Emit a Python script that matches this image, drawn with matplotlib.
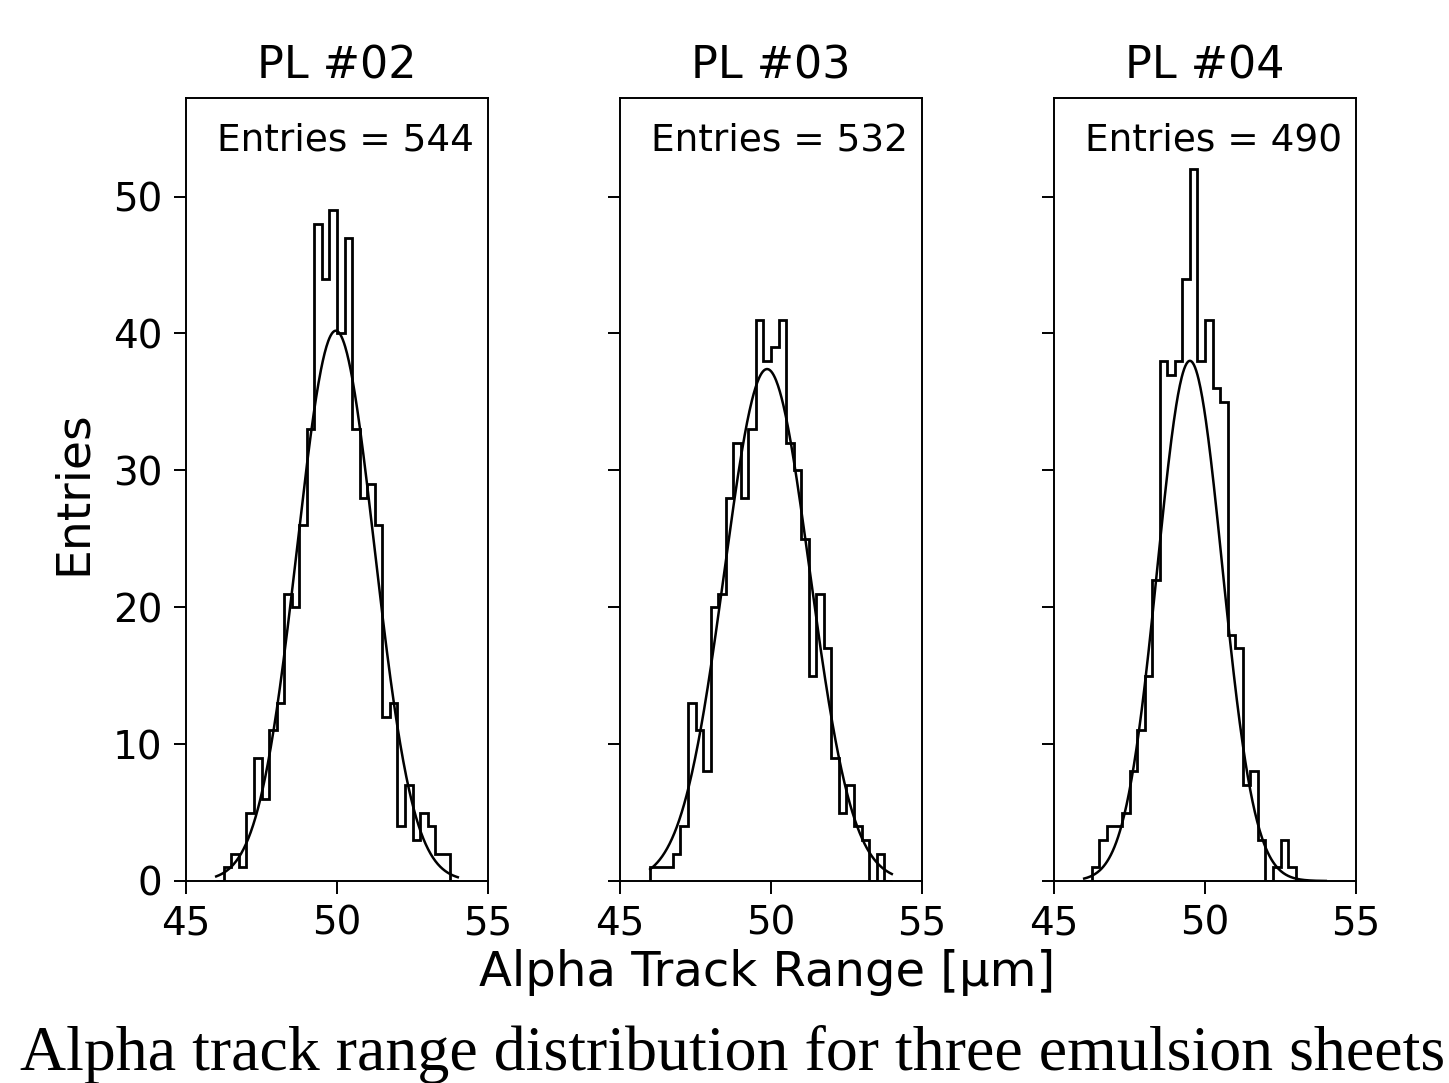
import numpy as np
import matplotlib
matplotlib.use("Agg")
import matplotlib.pyplot as plt

# bin edges: 0.25 um bins from 46 to 54
bin_lo, bin_hi, n_bins = 46.0, 54.0, 32

counts_pl02 = [0, 1, 2, 1, 5, 9, 6, 11, 13, 21, 20, 26, 33, 48, 44, 49,
               40, 47, 33, 28, 29, 26, 12, 13, 4, 7, 3, 5, 4, 2, 2, 0]
counts_pl03 = [1, 1, 1, 2, 4, 13, 11, 8, 20, 21, 28, 32, 28, 33, 41, 38,
               39, 41, 32, 30, 25, 15, 21, 17, 9, 5, 7, 4, 3, 0, 2, 0]
counts_pl04 = [0, 1, 3, 4, 4, 5, 8, 11, 15, 22, 38, 37, 38, 44, 52, 38,
               41, 36, 35, 18, 17, 7, 8, 3, 0, 1, 3, 1, 0, 0, 0, 0]

titles  = ["PL #02", "PL #03", "PL #04"]
entries = [544, 532, 490]

# gaussian fit parameters (amplitude, mean, sigma)
fit_amp   = [40.2, 37.4, 38.0]
fit_mean  = [49.96, 49.87, 49.50]
fit_sigma = [1.28, 1.41, 1.07]

all_counts = [counts_pl02, counts_pl03, counts_pl04]

edges   = np.linspace(bin_lo, bin_hi, n_bins + 1)
centers = 0.5 * (edges[:-1] + edges[1:])
xfit    = np.linspace(bin_lo, bin_hi, 400)

plt.rcParams["font.family"] = "DejaVu Sans"
fig = plt.figure(figsize=(14.49, 10.83), dpi=100, facecolor="white")

W, H = 1449, 1083
lefts = [186, 620, 1054]
ax_w, ax_top, ax_bot = 302, 98, 881

axes = []
for i, cnt in enumerate(all_counts):
    ax = fig.add_axes([lefts[i] / W, 1 - ax_bot / H, ax_w / W, (ax_bot - ax_top) / H])
    ax.hist(centers, bins=edges, weights=cnt, histtype="step",
            color="black", lw=2.0)
    yfit = fit_amp[i] * np.exp(-0.5 * ((xfit - fit_mean[i]) / fit_sigma[i]) ** 2)
    ax.plot(xfit, yfit, color="black", lw=1.8)
    ax.set_xlim(45, 55)
    ax.set_ylim(0, 57.2)
    ax.set_xticks([45, 50, 55])
    ax.set_yticks([0, 10, 20, 30, 40, 50])
    ax.tick_params(labelsize=28, length=9, width=1.4, pad=8)
    if i > 0:
        ax.set_yticklabels([])
    for s in ax.spines.values():
        s.set_linewidth(1.4)
    ax.set_title(titles[i], fontsize=32, pad=14)
    ax.text(0.527, 0.946, f"Entries = {entries[i]}", transform=ax.transAxes,
            ha="center", va="center", fontsize=27)
    axes.append(ax)

fig.text(767 / W, 1 - 972 / H, "Alpha Track Range [\u00b5m]", ha="center", va="center", fontsize=34.7)
fig.text(73 / W, 1 - 493 / H, "Entries", ha="center", va="center", rotation=90, fontsize=34)

fig.text(733 / W, 1 - 1055 / H, "Alpha track range distribution for three emulsion sheets",
         ha="center", va="center", fontsize=46, family="Liberation Serif")

fig.savefig("out.png", dpi=100, facecolor="white")
